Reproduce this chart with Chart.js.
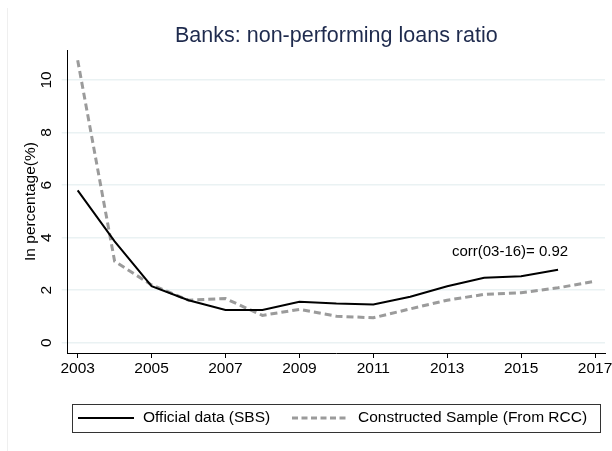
<!DOCTYPE html>
<html>
<head>
<meta charset="utf-8">
<script src="https://cdn.jsdelivr.net/npm/chart.js@4"></script>
<style>
  html, body { margin: 0; padding: 0; background: #fff; }
  #wrap { width: 612px; height: 451px; }
</style>
</head>
<body>
<div id="wrap"><canvas id="npl"></canvas></div>
<script>
const years = [2003, 2004, 2005, 2006, 2007, 2008, 2009, 2010, 2011, 2012, 2013, 2014, 2015, 2016, 2017];
const officialSBS = [5.8, 3.86, 2.15, 1.62, 1.25, 1.25, 1.56, 1.49, 1.46, 1.75, 2.15, 2.47, 2.53, 2.78];
const constructedRCC = [10.75, 3.1, 2.2, 1.62, 1.68, 1.04, 1.27, 1.01, 0.95, 1.29, 1.62, 1.84, 1.9, 2.09, 2.34];
const xTicks = [2003, 2005, 2007, 2009, 2011, 2013, 2015, 2017];
const yTicks = [0, 2, 4, 6, 8, 10];
const seriesNames = ['Official data (SBS)', 'Constructed Sample (From RCC)'];
const corrNote = { text: 'corr(03-16)= 0.92', x: 2014.7, y: 3.45 };

const FONT = '"Liberation Sans", Arial, sans-serif';
const GREY = '#9b9b9b';

function toPoints(vals) {
  return vals.map((v, i) => ({ x: years[i], y: v }));
}

// title, rotated y labels, x labels, note and legend drawn stata-style
const stataBits = {
  id: 'stataBits',
  afterDraw(chart) {
    const c = chart.ctx;
    const xs = chart.scales.x, ys = chart.scales.y;
    const area = chart.chartArea;
    c.save();

    // faint outer border
    c.strokeStyle = '#efefef';
    c.lineWidth = 1;
    c.beginPath();
    c.moveTo(7.5, 8);
    c.lineTo(7.5, 451);
    c.stroke();

    c.fillStyle = '#1f2b4e';
    c.font = '21.5px ' + FONT;
    c.textAlign = 'center';
    c.textBaseline = 'middle';
    c.fillText('Banks: non-performing loans ratio', (area.left + area.right) / 2, 36);

    c.fillStyle = '#000';
    c.font = '15.5px ' + FONT;
    yTicks.forEach(v => {
      c.save();
      c.translate(47, ys.getPixelForValue(v));
      c.rotate(-Math.PI / 2);
      c.fillText(String(v), 0, 0);
      c.restore();
    });
    c.save();
    c.translate(31, (area.top + area.bottom) / 2);
    c.rotate(-Math.PI / 2);
    c.fillText('In percentage(%)', 0, 0);
    c.restore();

    xTicks.forEach(v => {
      c.fillText(String(v), xs.getPixelForValue(v), 369);
    });

    c.font = '15px ' + FONT;
    c.fillText(corrNote.text, xs.getPixelForValue(corrNote.x), ys.getPixelForValue(corrNote.y));

    // legend
    c.strokeStyle = '#333';
    c.lineWidth = 1;
    c.strokeRect(72.5, 404.5, 528, 28);
    c.lineWidth = 2;
    c.strokeStyle = '#000';
    c.beginPath(); c.moveTo(78, 418); c.lineTo(134, 418); c.stroke();
    c.lineWidth = 3;
    c.strokeStyle = GREY;
    c.setLineDash([6, 3.5]);
    c.beginPath(); c.moveTo(292, 418); c.lineTo(348, 418); c.stroke();
    c.setLineDash([]);
    c.textAlign = 'left';
    c.fillStyle = '#000';
    c.font = '15.5px ' + FONT;
    c.fillText(seriesNames[0], 143, 418);
    c.fillText(seriesNames[1], 358, 418);
    c.restore();
  }
};

new Chart(document.getElementById('npl'), {
  type: 'line',
  data: {
    datasets: [
      {
        label: seriesNames[0],
        data: toPoints(officialSBS),
        borderColor: '#000',
        borderWidth: 2,
        pointRadius: 0,
        tension: 0
      },
      {
        label: seriesNames[1],
        data: toPoints(constructedRCC),
        borderColor: GREY,
        borderWidth: 3,
        borderDash: [7, 4],
        pointRadius: 0,
        tension: 0
      }
    ]
  },
  options: {
    responsive: true,
    maintainAspectRatio: false,
    animation: false,
    layout: { padding: { left: 61.7, right: 7, top: 50, bottom: 93 } },
    plugins: {
      legend: { display: false },
      tooltip: { enabled: false }
    },
    scales: {
      x: {
        type: 'linear',
        min: 2002.73,
        max: 2017.27,
        afterBuildTicks: s => { s.ticks = xTicks.map(v => ({ value: v })); },
        ticks: { display: false },
        grid: { drawOnChartArea: false, drawTicks: true, tickLength: 5, color: '#000' },
        border: { display: true, color: '#000', width: 1 }
      },
      y: {
        min: -0.39,
        max: 11.14,
        afterBuildTicks: s => { s.ticks = yTicks.map(v => ({ value: v })); },
        ticks: { display: false },
        grid: { drawTicks: true, tickLength: 6, color: '#eaf2f3', lineWidth: 1.5 },
        border: { display: true, color: '#000', width: 1 }
      }
    }
  },
  plugins: [stataBits]
});
</script>
</body>
</html>
